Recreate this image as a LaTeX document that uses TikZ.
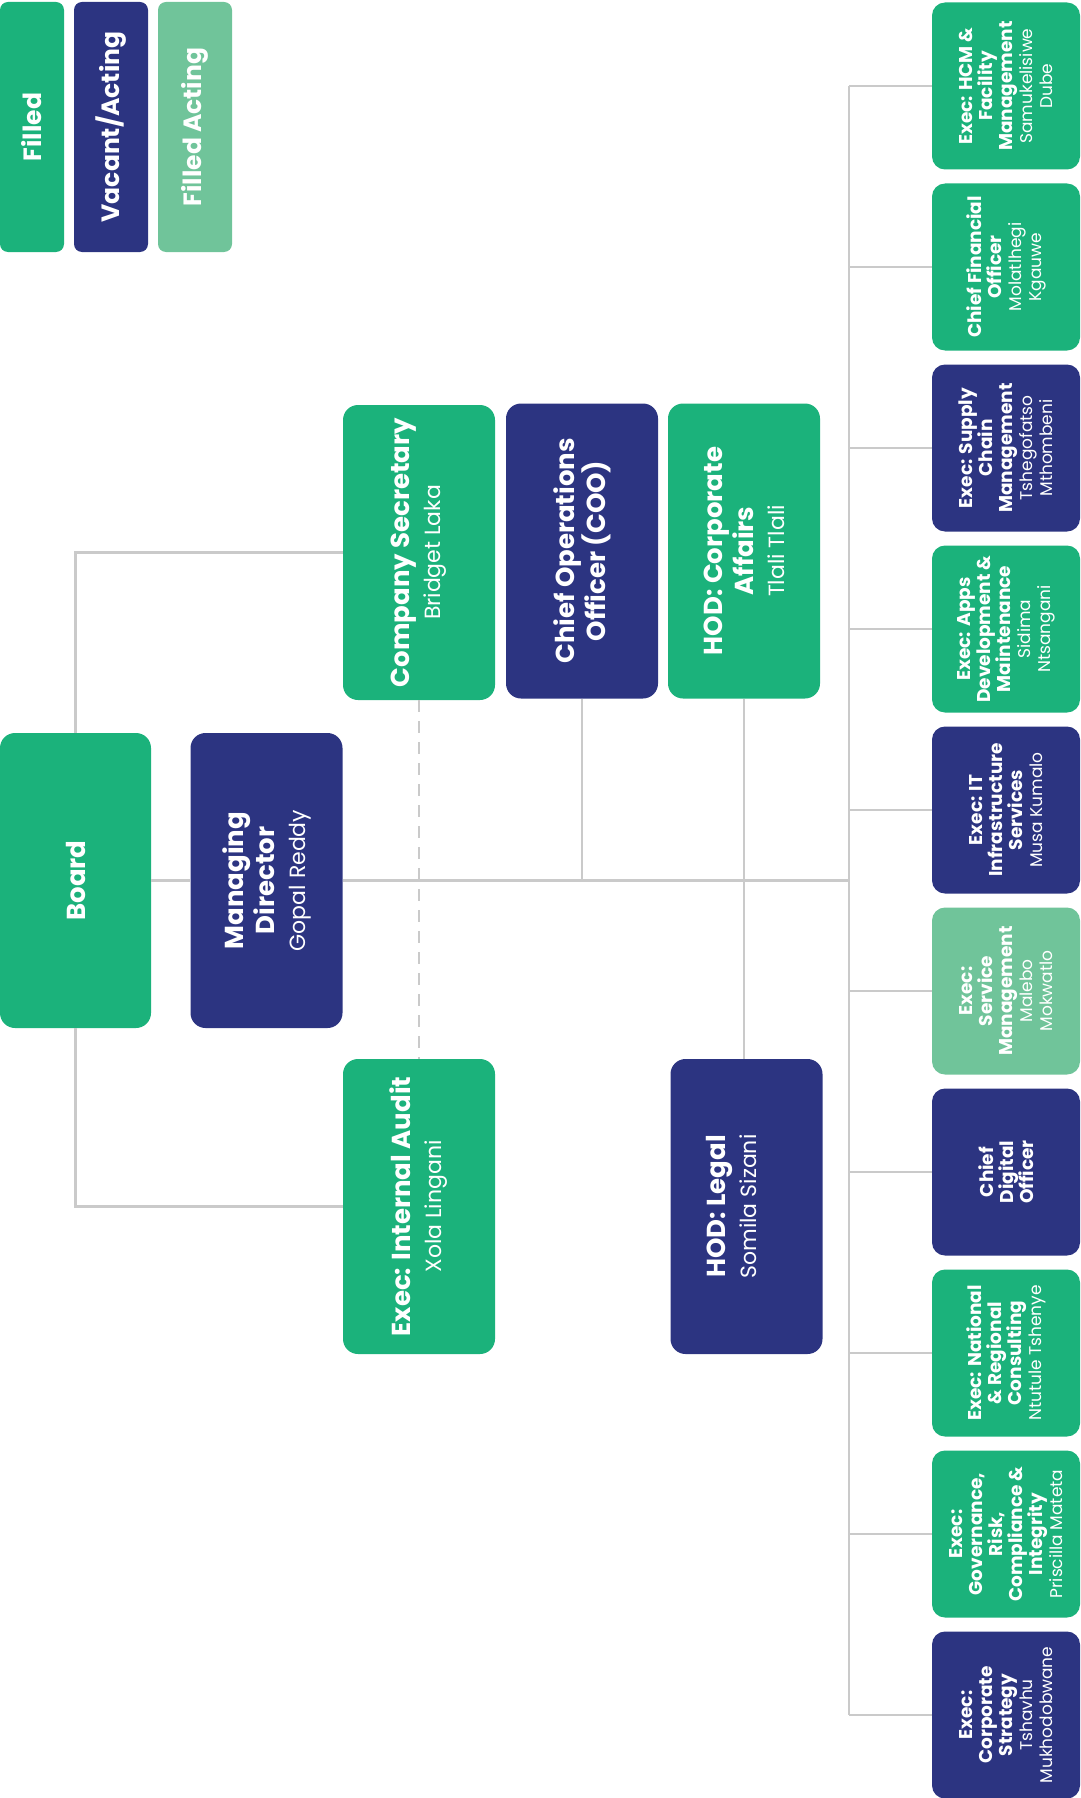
\documentclass[tikz,border=0pt]{standalone}
\usepackage{fontspec}
\setmainfont{Poppins}
\usepackage{graphicx}
\usetikzlibrary{positioning}

\definecolor{filledgreen}{HTML}{1BB27B}
\definecolor{vacantblue}{HTML}{2C3481}
\definecolor{actinggreen}{HTML}{70C49A}
\definecolor{linegray}{HTML}{CACACA}

\newcommand{\rot}[2]{\rotatebox{90}{\parbox{#1}{\centering #2}}}
\newcommand{\bigttl}{\fontsize{26pt}{31pt}\selectfont\bfseries}
\newcommand{\bignm}{\fontsize{22pt}{31pt}\selectfont\mdseries}
\newcommand{\smttl}{\fontsize{18.5pt}{20pt}\selectfont\bfseries}
\newcommand{\smnm}{\fontsize{17pt}{20pt}\selectfont\mdseries}
\newcommand{\keyttl}{\fontsize{25pt}{30pt}\selectfont\bfseries}

\begin{document}
\begin{tikzpicture}[x=1pt, y=-1pt,
    box/.style={rounded corners=15pt, inner sep=0pt, text=white},
    big/.style={box, minimum width=152pt, minimum height=295pt},
    small/.style={box, rounded corners=13pt, minimum width=148pt, minimum height=167pt},
    key/.style={box, rounded corners=8pt, minimum width=74pt, minimum height=250pt},
    link/.style={draw=linegray, line width=2.5pt},
    dotlink/.style={link, dash pattern=on 12pt off 9pt}]
        \useasboundingbox (0,0) rectangle (1080,1798);
        % legend
        \node[key, minimum width=64pt, fill=filledgreen] (kfilled) at (32,127) {\rot{240pt}{\keyttl Filled}};
        \node[key, fill=vacantblue] (kvacant) at (111,127) {\rot{240pt}{\keyttl Vacant/Acting}};
        \node[key, fill=actinggreen] (kacting) at (195,127) {\rot{240pt}{\keyttl Filled Acting}};
        % top level
        \node[big, minimum width=151pt, fill=filledgreen] (board) at (75.5,880.5) {\rot{270pt}{\bigttl Board}};
        \node[big, fill=vacantblue] (md) at (266.5,880.5) {\rot{270pt}{\bigttl Managing\\ Director\\ \bignm Gopal Reddy}};
        \node[big, fill=filledgreen] (cs) at (419,552.5) {\rot{270pt}{\bigttl Company Secretary\\ \bignm Bridget Laka}};
        \node[big, fill=filledgreen] (ia) at (419,1206.5) {\rot{270pt}{\bigttl Exec: Internal Audit\\ \bignm Xola Lingani}};
        \node[big, fill=vacantblue] (coo) at (582,551) {\rot{270pt}{\bigttl Chief Operations\\ Officer (COO)}};
        \node[big, fill=filledgreen] (hca) at (744,551) {\rot{270pt}{\bigttl HOD: Corporate\\ Affairs\\ \bignm Tlali Tlali}};
        \node[big, fill=vacantblue] (hlegal) at (746.5,1206.5) {\rot{270pt}{\bigttl HOD: Legal\\ \bignm Somila Sizani\\ \mbox{}}};
        % executives
        \node[small, fill=filledgreen] (hcm) at (1006,86) {\rot{160pt}{\smttl Exec: HCM \&\\ Facility\\ Management\\ \smnm Samukelisiwe\\ Dube}};
        \node[small, fill=filledgreen, below=13.6pt of hcm] (cfo) {\rot{160pt}{\smttl Chief Financial\\ Officer\\ \smnm Molatlhegi\\ Kgauwe}};
        \node[small, fill=vacantblue, below=13.6pt of cfo] (scm) {\rot{160pt}{\smttl Exec: Supply\\ Chain\\ Management\\ \smnm Tshegofatso\\ Mthombeni}};
        \node[small, fill=filledgreen, below=13.6pt of scm] (apps) {\rot{160pt}{\smttl Exec: Apps\\ Development \&\\ Maintenance\\ \smnm Sidima\\ Ntsangani}};
        \node[small, fill=vacantblue, below=13.6pt of apps] (infra) {\rot{160pt}{\smttl Exec: IT\\ Infrastructure\\ Services\\ \smnm Musa Kumalo}};
        \node[small, fill=actinggreen, below=13.6pt of infra] (service) {\rot{160pt}{\smttl Exec:\\ Service\\ Management\\ \smnm Malebo\\ Mokwatlo}};
        \node[small, fill=vacantblue, below=13.6pt of service] (cdo) {\rot{160pt}{\smttl Chief\\ Digital\\ Officer}};
        \node[small, fill=filledgreen, below=13.6pt of cdo] (national) {\rot{160pt}{\smttl Exec: National\\ \& Regional\\ Consulting\\ \smnm Ntutule Tshenye}};
        \node[small, fill=filledgreen, below=13.6pt of national] (grc) {\rot{160pt}{\smttl Exec:\\ Governance,\\ Risk,\\ Compliance \&\\ Integrity\\ \smnm Priscilla Mateta}};
        \node[small, fill=vacantblue, below=13.6pt of grc] (strategy) {\rot{160pt}{\smttl Exec:\\ Corporate\\ Strategy\\ \smnm Tshavhu\\ Mukhodobwane}};
        % connectors
        \coordinate (bus) at (849,880.5);
        \draw[link] (board.north) |- (cs.west);
        \draw[link] (board.south) |- (ia.west);
        \draw[link] (board.east) -- (md.west);
        \draw[link] (md.east) -- (bus);
        \draw[dotlink] (cs.south) -- (ia.north);
        \draw[link] (coo.south) -- (coo.south |- bus);
        \draw[link] (hca.south) -- (hca.south |- hlegal.north);
        \draw[link] (bus |- hcm.west) -- (bus |- strategy.west);
        \foreach \n in {hcm,cfo,scm,apps,infra,service,cdo,national,grc,strategy}
            \draw[link] (bus |- \n.west) -- (\n.west);
\end{tikzpicture}
\end{document}
